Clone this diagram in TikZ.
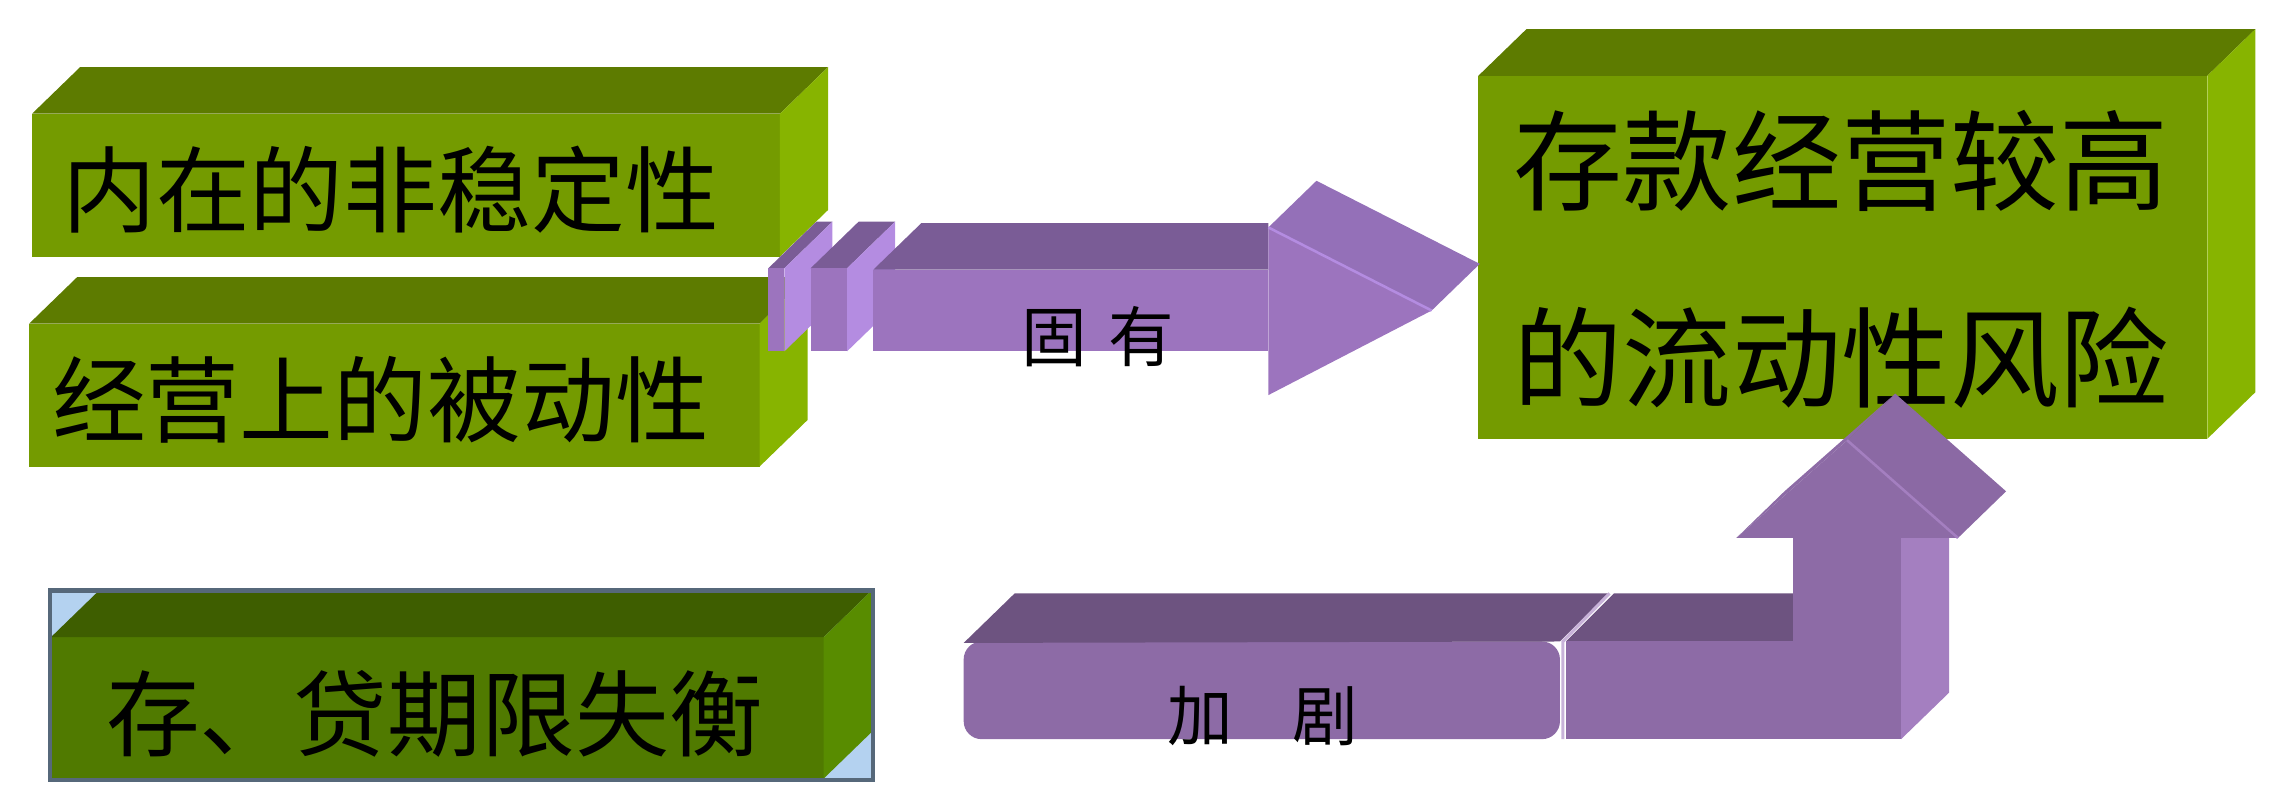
\documentclass[tikz,border=0pt]{standalone}
\usepackage{fontspec}
\newfontfamily\cjk{Noto Sans CJK SC}
\definecolor{greenfront}{HTML}{749B00}
\definecolor{greentop}{HTML}{5D7B00}
\definecolor{greenside}{HTML}{87B400}
\definecolor{darkfront}{HTML}{507A00}
\definecolor{darktop}{HTML}{3E5E00}
\definecolor{darkside}{HTML}{588C00}
\definecolor{paleblue}{HTML}{B4D2F0}
\definecolor{slate}{HTML}{56687A}
\definecolor{violetfront}{HTML}{9C74BE}
\definecolor{violettop}{HTML}{7A5C96}
\definecolor{violetside}{HTML}{B48CE1}
\definecolor{violethead}{HTML}{9470B8}
\definecolor{plumfront}{HTML}{8D6BA6}
\definecolor{plumtop}{HTML}{6D5380}
\definecolor{plumside}{HTML}{A47FC0}
\definecolor{plumhead}{HTML}{8B69A4}
\begin{document}
\begin{tikzpicture}[x=0.01cm, y=-0.01cm,
  boxtext/.style={font=\cjk\fontsize{18.3pt}{22pt}\selectfont, inner sep=0pt},
  risktext/.style={font=\cjk\fontsize{21.3pt}{38.4pt}\selectfont, inner sep=0pt, align=center},
  arrowtext/.style={font=\cjk\fontsize{12.8pt}{15pt}\selectfont, inner sep=0pt}]
  \useasboundingbox (0,0) rectangle (1568,545);
  \pgfmathsetmacro{\dx}{33}
  \pgfmathsetmacro{\dy}{-32}
  \fill[paleblue] (34,405) rectangle (599,535);
  % green blocks
  \foreach \xa/\ya/\xb/\yb/\face in {22/78/535/176/green, 20/222/521/320/green,
      35/437/565/534/dark, 1014/52/1514/301/green}
  {
    \fill[\face front] (\xa,\ya) rectangle (\xb,\yb);
    \fill[\face top] (\xa,\ya) -- (\xa+\dx,\ya+\dy) -- (\xb+\dx,\ya+\dy) -- (\xb,\ya) -- cycle;
    \fill[\face side] (\xb,\ya) -- (\xb+\dx,\ya+\dy) -- (\xb+\dx,\yb+\dy) -- (\xb,\yb) -- cycle;
  }
  \draw[slate, line width=0.8pt] (34,405) rectangle (599,535);

  \node[boxtext] (inner) at (268,130) {内在的非稳定性};
  \node[boxtext] (passive) at (261,274) {经营上的被动性};
  \node[boxtext] (mismatch) at (298,490) {存、贷期限失衡};
  \node[risktext] (risk) at (1263,178) {存款经营较高\\的流动性风险};

  % upper arrow
  \foreach \xa/\xb in {527/538, 556/581}
  {
    \fill[violettop] (\xa,184) -- (\xa+\dx,184+\dy) -- (\xb+\dx,184+\dy) -- (\xb,184) -- cycle;
    \fill[violetside] (\xb,184) -- (\xb+\dx,184+\dy) -- (\xb+\dx,241+\dy) -- (\xb,241) -- cycle;
    \fill[violetfront] (\xa,184) rectangle (\xb,241);
  }
  \fill[violettop] (599,185) -- (632,153) -- (870,153) -- (870,185) -- cycle;
  \fill[violetfront] (599,185) rectangle (870,241);
  \fill[violethead] (870,156) -- (903,124) -- (1015,181) -- (982,213) -- cycle;
  \fill[violetfront] (870,156) -- (982,213) -- (870,271) -- cycle;
  \draw[violetside, line width=0.5pt] (870,156) -- (982,213);
  \node[arrowtext] (inherent) at (753,231) {固\hspace{0.32em}有};

  % lower arrow
  \fill[plumfront, rounded corners=3.5] (661,440) rectangle (1070,507);
  \fill[plumtop] (661,441) -- (696,407) -- (1103,407) -- (1070,440) -- cycle;
  \fill[plumtop] (1074,440) -- (1107,407) -- (1230,407) -- (1230,440) -- cycle;
  \fill[plumfront] (1074,440) rectangle (1230,507);
  \draw[plumside!60!white, line width=0.6pt] (1104,407) -- (1072,440) -- (1072,507);
  \fill[plumside] (1304,369) -- (1337,337) -- (1337,475) -- (1304,507) -- cycle;
  \fill[plumfront] (1230,369) rectangle (1304,507);
  \fill[plumfront] (1191,369) -- (1224,337) -- (1300,270) -- (1267,302) -- cycle;
  \fill[plumhead] (1267,302) -- (1300,270) -- (1376,337) -- (1343,369) -- cycle;
  \fill[plumfront] (1191,369) -- (1267,302) -- (1343,369) -- cycle;
  \draw[plumside, line width=0.5pt] (1267,302) -- (1343,369);
  \node[arrowtext] (worsen) at (866,491) {加\hspace{0.9em}剧};
\end{tikzpicture}
\end{document}
